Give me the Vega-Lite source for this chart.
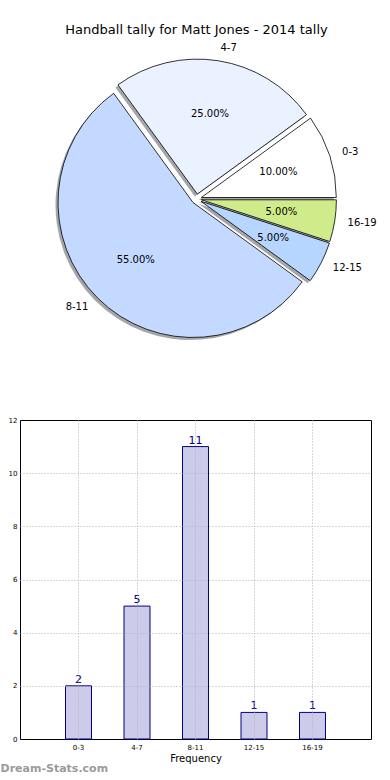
{
  "$schema": "https://vega.github.io/schema/vega-lite/v6.json",
  "background": "white",
  "padding": {"left": 0, "top": 24, "right": 0, "bottom": 0},
  "datasets": {
    "tally": [
      {"label": "0-3", "lo": 0, "count": 2, "share": 0.10},
      {"label": "4-7", "lo": 4, "count": 5, "share": 0.25},
      {"label": "8-11", "lo": 8, "count": 11, "share": 0.55},
      {"label": "12-15", "lo": 12, "count": 1, "share": 0.05},
      {"label": "16-19", "lo": 16, "count": 1, "share": 0.05}
    ]
  },
  "title": {"text": "Dream-Stats.com", "orient": "bottom", "anchor": "start", "frame": "bounds", "fontSize": 11, "fontWeight": "bold", "color": "#9a9a9a", "offset": -1},
  "spacing": 57,
  "vconcat": [
    {
      "width": 353,
      "height": 318,
      "view": {"stroke": null},
      "title": {"text": "Handball tally for Matt Jones - 2014 tally", "fontSize": 13, "fontWeight": "normal", "anchor": "middle", "offset": 3, "color": "black"},
      "data": {"name": "tally"},
      "transform": [{"stack": "count", "groupby": [], "sort": [{"field": "lo", "order": "ascending"}], "as": ["s0", "s1"]}],
      "layer": [
        {"transform": [{"filter": "datum.label === '0-3'"}], "mark": {"type": "arc", "outerRadius": 135, "fill": "#4a4d55", "fillOpacity": 0.5, "xOffset": 2.3, "yOffset": 1.0}, "encoding": {"theta": {"field": "s0", "type": "quantitative", "scale": {"domain": [0, 20], "range": [1.5707963, -4.712389], "nice": false, "zero": false}}, "theta2": {"field": "s1"}}},
        {"transform": [{"filter": "datum.label === '4-7'"}], "mark": {"type": "arc", "outerRadius": 135, "fill": "#4a4d55", "fillOpacity": 0.5, "xOffset": -1.7, "yOffset": -2.4}, "encoding": {"theta": {"field": "s0", "type": "quantitative", "scale": {"domain": [0, 20], "range": [1.5707963, -4.712389], "nice": false, "zero": false}}, "theta2": {"field": "s1"}}},
        {"transform": [{"filter": "datum.label === '8-11'"}], "mark": {"type": "arc", "outerRadius": 135, "fill": "#4a4d55", "fillOpacity": 0.5, "xOffset": -6.0, "yOffset": 6.0}, "encoding": {"theta": {"field": "s0", "type": "quantitative", "scale": {"domain": [0, 20], "range": [1.5707963, -4.712389], "nice": false, "zero": false}}, "theta2": {"field": "s1"}}},
        {"transform": [{"filter": "datum.label === '12-15'"}], "mark": {"type": "arc", "outerRadius": 135, "fill": "#4a4d55", "fillOpacity": 0.5, "xOffset": 2.0, "yOffset": 4.8}, "encoding": {"theta": {"field": "s0", "type": "quantitative", "scale": {"domain": [0, 20], "range": [1.5707963, -4.712389], "nice": false, "zero": false}}, "theta2": {"field": "s1"}}},
        {"transform": [{"filter": "datum.label === '16-19'"}], "mark": {"type": "arc", "outerRadius": 135, "fill": "#4a4d55", "fillOpacity": 0.5, "xOffset": 2.4, "yOffset": 3.3}, "encoding": {"theta": {"field": "s0", "type": "quantitative", "scale": {"domain": [0, 20], "range": [1.5707963, -4.712389], "nice": false, "zero": false}}, "theta2": {"field": "s1"}}},
        {"transform": [{"filter": "datum.label === '0-3'"}], "mark": {"type": "arc", "outerRadius": 135, "fill": "#ffffff", "stroke": "black", "strokeWidth": 0.8, "xOffset": 4.8, "yOffset": -1.5}, "encoding": {"theta": {"field": "s0", "type": "quantitative", "scale": {"domain": [0, 20], "range": [1.5707963, -4.712389], "nice": false, "zero": false}}, "theta2": {"field": "s1"}}},
        {"transform": [{"filter": "datum.label === '4-7'"}], "mark": {"type": "arc", "outerRadius": 135, "fill": "#ebf2ff", "stroke": "black", "strokeWidth": 0.8, "xOffset": 0.8, "yOffset": -4.9}, "encoding": {"theta": {"field": "s0", "type": "quantitative", "scale": {"domain": [0, 20], "range": [1.5707963, -4.712389], "nice": false, "zero": false}}, "theta2": {"field": "s1"}}},
        {"transform": [{"filter": "datum.label === '8-11'"}], "mark": {"type": "arc", "outerRadius": 135, "fill": "#c4d9ff", "stroke": "black", "strokeWidth": 0.8, "xOffset": -3.5, "yOffset": 3.5}, "encoding": {"theta": {"field": "s0", "type": "quantitative", "scale": {"domain": [0, 20], "range": [1.5707963, -4.712389], "nice": false, "zero": false}}, "theta2": {"field": "s1"}}},
        {"transform": [{"filter": "datum.label === '12-15'"}], "mark": {"type": "arc", "outerRadius": 135, "fill": "#b6d5ff", "stroke": "black", "strokeWidth": 0.8, "xOffset": 4.5, "yOffset": 2.3}, "encoding": {"theta": {"field": "s0", "type": "quantitative", "scale": {"domain": [0, 20], "range": [1.5707963, -4.712389], "nice": false, "zero": false}}, "theta2": {"field": "s1"}}},
        {"transform": [{"filter": "datum.label === '16-19'"}], "mark": {"type": "arc", "outerRadius": 135, "fill": "#d0ec8a", "stroke": "black", "strokeWidth": 0.8, "xOffset": 4.9, "yOffset": 0.8}, "encoding": {"theta": {"field": "s0", "type": "quantitative", "scale": {"domain": [0, 20], "range": [1.5707963, -4.712389], "nice": false, "zero": false}}, "theta2": {"field": "s1"}}},
        {"mark": {"type": "text", "radius": 81, "fontSize": 10, "align": "center", "baseline": "middle", "color": "black", "xOffset": 4.8, "yOffset": -1.5}, "encoding": {"theta": {"field": "count", "type": "quantitative", "stack": true, "scale": {"domain": [0, 20], "range": [1.5707963, -4.712389], "nice": false, "zero": false}}, "order": {"field": "lo", "type": "quantitative"}, "text": {"condition": {"test": "datum.label === '0-3'", "field": "share", "type": "quantitative", "format": ".2%"}, "value": ""}}},
        {"mark": {"type": "text", "radius": 81, "fontSize": 10, "align": "center", "baseline": "middle", "color": "black", "xOffset": 0.8, "yOffset": -4.9}, "encoding": {"theta": {"field": "count", "type": "quantitative", "stack": true, "scale": {"domain": [0, 20], "range": [1.5707963, -4.712389], "nice": false, "zero": false}}, "order": {"field": "lo", "type": "quantitative"}, "text": {"condition": {"test": "datum.label === '4-7'", "field": "share", "type": "quantitative", "format": ".2%"}, "value": ""}}},
        {"mark": {"type": "text", "radius": 81, "fontSize": 10, "align": "center", "baseline": "middle", "color": "black", "xOffset": -3.5, "yOffset": 3.5}, "encoding": {"theta": {"field": "count", "type": "quantitative", "stack": true, "scale": {"domain": [0, 20], "range": [1.5707963, -4.712389], "nice": false, "zero": false}}, "order": {"field": "lo", "type": "quantitative"}, "text": {"condition": {"test": "datum.label === '8-11'", "field": "share", "type": "quantitative", "format": ".2%"}, "value": ""}}},
        {"mark": {"type": "text", "radius": 81, "fontSize": 10, "align": "center", "baseline": "middle", "color": "black", "xOffset": 4.5, "yOffset": 2.3}, "encoding": {"theta": {"field": "count", "type": "quantitative", "stack": true, "scale": {"domain": [0, 20], "range": [1.5707963, -4.712389], "nice": false, "zero": false}}, "order": {"field": "lo", "type": "quantitative"}, "text": {"condition": {"test": "datum.label === '12-15'", "field": "share", "type": "quantitative", "format": ".2%"}, "value": ""}}},
        {"mark": {"type": "text", "radius": 81, "fontSize": 10, "align": "center", "baseline": "middle", "color": "black", "xOffset": 4.9, "yOffset": 0.8}, "encoding": {"theta": {"field": "count", "type": "quantitative", "stack": true, "scale": {"domain": [0, 20], "range": [1.5707963, -4.712389], "nice": false, "zero": false}}, "order": {"field": "lo", "type": "quantitative"}, "text": {"condition": {"test": "datum.label === '16-19'", "field": "share", "type": "quantitative", "format": ".2%"}, "value": ""}}},
        {"mark": {"type": "text", "radius": 148, "fontSize": 10, "align": "left", "baseline": "middle", "color": "black", "xOffset": 4.8, "yOffset": -1.5}, "encoding": {"theta": {"field": "count", "type": "quantitative", "stack": true, "scale": {"domain": [0, 20], "range": [1.5707963, -4.712389], "nice": false, "zero": false}}, "order": {"field": "lo", "type": "quantitative"}, "text": {"condition": {"test": "datum.label === '0-3'", "field": "label"}, "value": ""}}},
        {"mark": {"type": "text", "radius": 148, "fontSize": 10, "align": "left", "baseline": "middle", "color": "black", "xOffset": 0.8, "yOffset": -4.9}, "encoding": {"theta": {"field": "count", "type": "quantitative", "stack": true, "scale": {"domain": [0, 20], "range": [1.5707963, -4.712389], "nice": false, "zero": false}}, "order": {"field": "lo", "type": "quantitative"}, "text": {"condition": {"test": "datum.label === '4-7'", "field": "label"}, "value": ""}}},
        {"mark": {"type": "text", "radius": 148, "fontSize": 10, "align": "right", "baseline": "middle", "color": "black", "xOffset": -3.5, "yOffset": 3.5}, "encoding": {"theta": {"field": "count", "type": "quantitative", "stack": true, "scale": {"domain": [0, 20], "range": [1.5707963, -4.712389], "nice": false, "zero": false}}, "order": {"field": "lo", "type": "quantitative"}, "text": {"condition": {"test": "datum.label === '8-11'", "field": "label"}, "value": ""}}},
        {"mark": {"type": "text", "radius": 148, "fontSize": 10, "align": "left", "baseline": "middle", "color": "black", "xOffset": 4.5, "yOffset": 2.3}, "encoding": {"theta": {"field": "count", "type": "quantitative", "stack": true, "scale": {"domain": [0, 20], "range": [1.5707963, -4.712389], "nice": false, "zero": false}}, "order": {"field": "lo", "type": "quantitative"}, "text": {"condition": {"test": "datum.label === '12-15'", "field": "label"}, "value": ""}}},
        {"mark": {"type": "text", "radius": 148, "fontSize": 10, "align": "left", "baseline": "middle", "color": "black", "xOffset": 4.9, "yOffset": 0.8}, "encoding": {"theta": {"field": "count", "type": "quantitative", "stack": true, "scale": {"domain": [0, 20], "range": [1.5707963, -4.712389], "nice": false, "zero": false}}, "order": {"field": "lo", "type": "quantitative"}, "text": {"condition": {"test": "datum.label === '16-19'", "field": "label"}, "value": ""}}}
      ]
    },
    {
      "width": 351,
      "height": 319,
      "view": {"stroke": "black", "strokeWidth": 1},
      "data": {"name": "tally"},
      "encoding": {
        "x": {"field": "label", "type": "nominal", "sort": null, "scale": {"paddingInner": 0.556, "paddingOuter": 0.778},
          "axis": {"title": "Frequency", "labelAngle": 0, "labelFontSize": 7, "labelColor": "black", "ticks": false, "domain": false, "grid": true, "gridDash": [1, 2], "gridColor": "#b0b0b0", "bandPosition": 0.5, "zindex": 1, "labelPadding": 4, "titleFontSize": 10, "titleFontWeight": "normal", "titleColor": "black", "titlePadding": 3}},
        "y": {"field": "count", "type": "quantitative", "scale": {"domain": [0, 12], "nice": false},
          "axis": {"title": null, "values": [0, 2, 4, 6, 8, 10, 12], "labelFontSize": 7, "labelColor": "black", "ticks": false, "domain": false, "grid": true, "gridDash": [1, 2], "gridColor": "#b0b0b0", "gridOpacity": {"condition": {"test": "datum.value === 0 || datum.value === 12", "value": 0}, "value": 1}, "zindex": 1, "labelPadding": 3, "minExtent": 19, "maxExtent": 19}}
      },
      "layer": [
        {"mark": {"type": "bar", "fill": "#ccccea", "stroke": "#000080", "strokeWidth": 1}},
        {"mark": {"type": "text", "baseline": "bottom", "dy": -1, "fontSize": 11, "color": "#000080"}, "encoding": {"text": {"field": "count", "type": "quantitative"}}}
      ]
    }
  ],
  "config": {
    "font": "DejaVu Sans",
    "axis": {"labelFont": "DejaVu Sans", "titleFont": "DejaVu Sans"}
  }
}
